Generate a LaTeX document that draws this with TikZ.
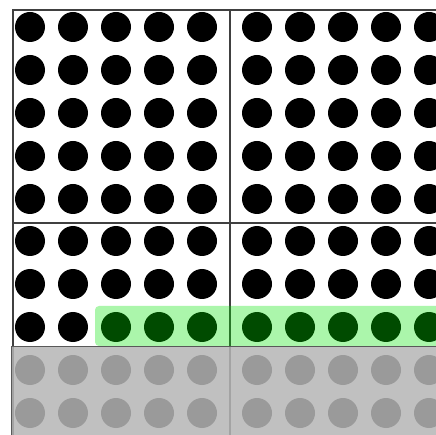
\documentclass[tikz,border=0pt]{standalone}
\begin{document}
\begin{tikzpicture}[x=1pt,y=-1pt]
    % --- 样式定义 ---
    \tikzstyle{bead}=[fill=black]
    \tikzstyle{frame}=[draw=black!75, line width=1.3pt]
    \tikzstyle{highlight}=[fill={rgb,255:red,0;green,230;blue,0}, fill opacity=0.33, rounded corners=4pt]
    \tikzstyle{cover}=[fill=black!29, fill opacity=0.85, draw=black!65, line width=0.8pt]

    % 画布范围
    \useasboundingbox (0,0) rectangle (436,435);
    \clip (0,0) rectangle (436,435);
    \fill[white] (0,0) rectangle (436,435);

    % ====== 框格 (四个 5x5 方块) ======
    \draw[frame] (13,10) rectangle (230,223);
    \draw[frame] (230,10) rectangle (448,223);
    \draw[frame] (13,223) rectangle (230,438);
    \draw[frame] (230,223) rectangle (448,438);

    % ====== 点阵 ======
    \foreach \x in {30,73,116,159,202,257,300,343,386,429} {
        \foreach \y in {27,70,113,156,199,241,284,327,370,413} {
            \fill[bead] (\x,\y) circle (15pt);
        }
    }

    % 高亮的一行
    \fill[highlight] (95,306) rectangle (450,346);

    % 遮住的两行
    \filldraw[cover] (11,346) rectangle (450,445);

\end{tikzpicture}
\end{document}
